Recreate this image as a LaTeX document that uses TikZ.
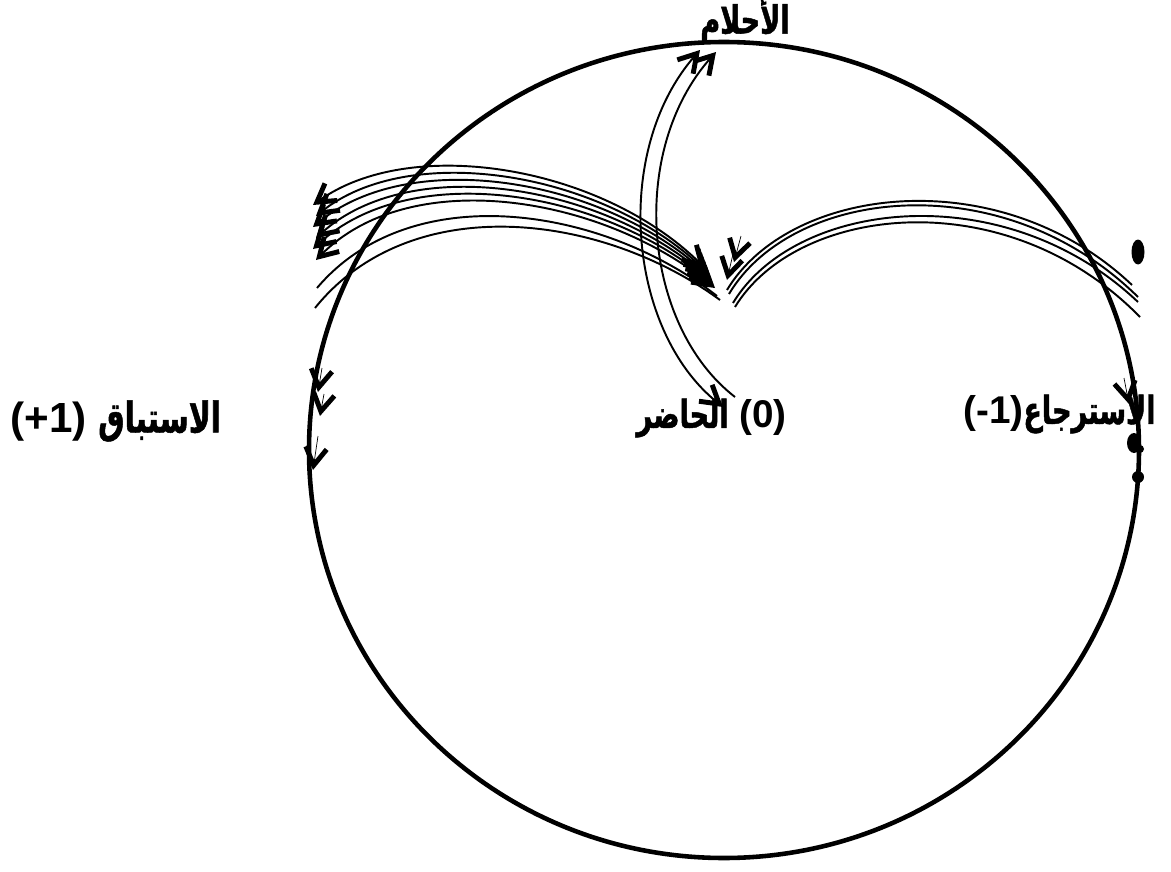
\documentclass[tikz,border=0pt]{standalone}
\usepackage{fontspec}
\setmainfont{Liberation Sans}
\newfontfamily\arabicfont[Script=Arabic, FakeStretch=0.7, FakeBold=1.2]{DejaVu Sans}
\TeXXeTstate=1
\usetikzlibrary{arrows.meta}
\tikzset{
    ring/.style={line width=2.6pt},
    strand/.style={line width=1.1pt},
    barbed/.style={-{Straight Barb[length=10pt,width=12pt,line width=2.8pt]}},
    bibarbed/.style={{Straight Barb[length=10pt,width=12pt,line width=2.8pt]}-{Straight Barb[length=10pt,width=12pt,line width=2.8pt]}},
    caption/.style={font=\fontsize{22}{26}\selectfont\bfseries, inner sep=0pt}
}

\begin{document}
\begin{tikzpicture}[x=0.02cm, y=-0.02cm]
    \useasboundingbox (0,0) rectangle (1171,872);
    % the cycle of time
    \draw[ring] (724,450) ellipse [x radius=415, y radius=408];
    % labels
    \node[caption] (dreams) at (745,20) {\arabicfont\beginR الأحلام\endR};
    \node[caption, anchor=west, font=\fontsize{24}{28}\selectfont\bfseries] (future) at (10,421) {\beginR{\arabicfont الاستباق} \beginL(+1)\endL\endR};
    \node[caption, anchor=east] (present) at (787,418) {\beginR\beginL(0)\endL{} {\arabicfont الحاضر}\endR};
    \node[caption, anchor=west] (past) at (963,414) {\beginL(-1)\endL\beginR{\arabicfont الاسترجاع}\endR};
    % strands towards the future
    \foreach \i [evaluate=\i as \dx using {313+3*mod(\i,2)}] in {0,...,5}
        \draw[strand, bibarbed] (705+2*\i,268+4*\i) .. controls (600,165+6*\i) and (410,135+6*\i) .. (\dx,205+11*\i);
    \draw[strand] (717,296) .. controls (600,205) and (410,178) .. (317,288);
    \draw[strand] (720,300) .. controls (600,212) and (410,190) .. (315,308);
    % strands from the past
    \draw[strand] (727,290) .. controls (790,185) and (1000,160) .. (1132,285);
    \draw[strand] (729,294) .. controls (792,188) and (1002,163) .. (1138,297);
    \draw[strand] (733,303) .. controls (795,200) and (1004,175) .. (1138,302);
    \draw[strand] (735,307) .. controls (797,205) and (1006,180) .. (1140,317);
    \draw[barbed] (741,236) -- (734,262);
    \draw[barbed] (733,254) -- (727,280);
    % strand of dreams
    \draw[strand, bibarbed] (723,407) .. controls (627,330) and (612,150) .. (700,50);
    \draw[strand, barbed] (735,397) .. controls (642,325) and (628,150) .. (716,52);
    % marks on the ring
    \draw[barbed] (322,368) -- (318,392);
    \draw[barbed] (324,394) -- (320,416);
    \draw[barbed] (318,436) -- (313,470);
    \draw[barbed] (1124,378) -- (1129,404);
    \fill (1138,252) ellipse [x radius=6.5, y radius=12.5];
    \fill (1134,443) ellipse [x radius=7, y radius=10];
    \fill (1140,449) circle [radius=4];
    \fill (1138,477) circle [radius=6];
\end{tikzpicture}
\end{document}
